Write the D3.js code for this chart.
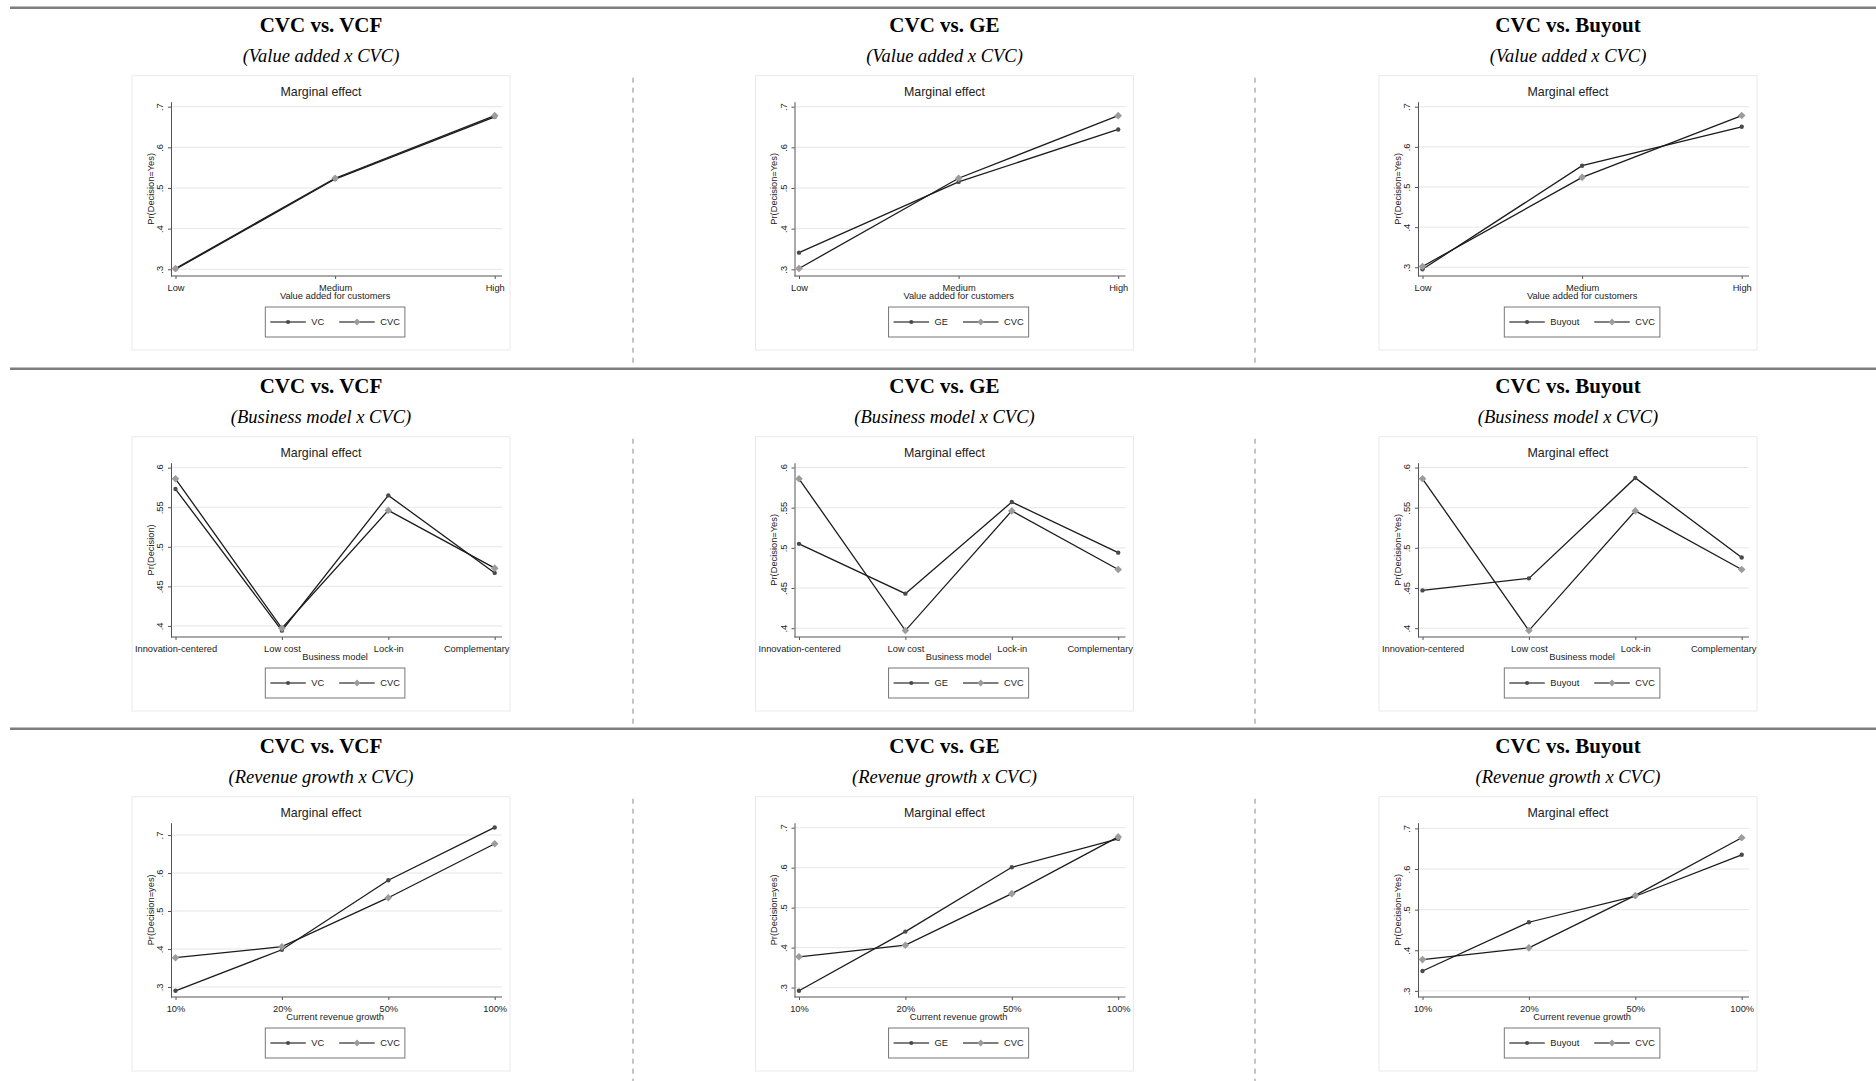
<!DOCTYPE html>
<html>
<head>
<meta charset="utf-8">
<script src="https://cdn.jsdelivr.net/npm/d3@7"></script>
<style>
  html, body { margin: 0; padding: 0; background: #fff; }
  svg { display: block; }
</style>
</head>
<body>
<svg id="chart" width="1876" height="1081"></svg>
<script>
// ---- Column / row labels ----
const comparisons = ["CVC vs. VCF", "CVC vs. GE", "CVC vs. Buyout"];
const comparatorNames = ["VC", "GE", "Buyout"];
const rowSubtitles = ["(Value added x CVC)", "(Business model x CVC)", "(Revenue growth x CVC)"];
const xTitles = ["Value added for customers", "Business model", "Current revenue growth"];
const yTitles = [
  ["Pr(Decision=Yes)", "Pr(Decision=Yes)", "Pr(Decision=Yes)"],
  ["Pr(Decision)", "Pr(Decision=Yes)", "Pr(Decision=Yes)"],
  ["Pr(Decision=yes)", "Pr(Decision=yes)", "Pr(Decision=Yes)"]
];

// ---- Categories ----
const valueLevels = ["Low", "Medium", "High"];
const businessModels = ["Innovation-centered", "Low cost", "Lock-in", "Complementary"];
const growthLevels = ["10%", "20%", "50%", "100%"];

// ---- Tick values ----
const tenthTicks = [0.3, 0.4, 0.5, 0.6, 0.7];
const twentiethTicks = [0.4, 0.45, 0.5, 0.55, 0.6];

// ---- Predicted probabilities: value added x CVC ----
const vcValue = [0.300, 0.522, 0.675];
const geValue = [0.341, 0.515, 0.644];
const buyoutValue = [0.295, 0.553, 0.650];
const cvcValue = [0.302, 0.524, 0.678];

// ---- Predicted probabilities: business model x CVC ----
const vcModel = [0.573, 0.394, 0.565, 0.467];
const geModel = [0.505, 0.443, 0.557, 0.494];
const buyoutModel = [0.447, 0.462, 0.587, 0.488];
const cvcModel = [0.586, 0.397, 0.546, 0.473];

// ---- Predicted probabilities: revenue growth x CVC ----
const vcGrowth = [0.290, 0.398, 0.581, 0.720];
const geGrowth = [0.292, 0.440, 0.601, 0.672];
const buyoutGrowth = [0.349, 0.469, 0.533, 0.635];
const cvcGrowth = [0.377, 0.406, 0.535, 0.677];

// ---- Assemble panels (row = moderator, column = comparison) ----
const rowCategories = [valueLevels, businessModels, growthLevels];
const rowTicks = [tenthTicks, twentiethTicks, tenthTicks];
const rowSeries = [
  [vcValue, geValue, buyoutValue],
  [vcModel, geModel, buyoutModel],
  [vcGrowth, geGrowth, buyoutGrowth]
];
const rowCvc = [cvcValue, cvcModel, cvcGrowth];
// plot-region value range for each panel's y scale
const yDomains = [
  [[0.2835, 0.7123], [0.2835, 0.7123], [0.2783, 0.7125]],
  [[0.386, 0.6063], [0.389, 0.606], [0.389, 0.606]],
  [[0.2736, 0.7325], [0.2764, 0.7125], [0.285, 0.714]]
];

// ---- Layout ----
const W = 1876, H = 1081;
const boxLeft = [132, 755.5, 1379];
const boxTop = [75.7, 436.7, 796.7];
const boxW = 378, boxH = 274.3;
const dividerX = [633, 1255];
const plot = { axisX: 39, left: 43.5, right: 362.7, gridEnd: 370, top: 26, bottom: 200.3 };

const SANS = "Arial, 'Liberation Sans', sans-serif";
const SERIF = "'Times New Roman', 'Liberation Serif', serif";

const svg = d3.select("#chart");
svg.append("rect").attr("width", W).attr("height", H).attr("fill", "#fff");

const fmt = d => String(d).replace(/^0/, "");

// horizontal rules and vertical dashed dividers
boxTop.forEach((by, r) => {
  svg.append("line")
    .attr("x1", 10).attr("x2", W)
    .attr("y1", by - 68).attr("y2", by - 68)
    .attr("stroke", "#7d7d7d").attr("stroke-width", 2.6);
  const yEnd = r < boxTop.length - 1 ? boxTop[r + 1] - 69.5 : H;
  dividerX.forEach(x => {
    svg.append("line")
      .attr("x1", x).attr("x2", x)
      .attr("y1", by + 2).attr("y2", yEnd)
      .attr("stroke", "#8a8a8a").attr("stroke-width", 1)
      .attr("stroke-dasharray", "5,5");
  });
});

function diamond(size) {
  return `M0,${-size}L${size},0L0,${size}L${-size},0Z`;
}

for (let r = 0; r < 3; r++) {
  for (let c = 0; c < 3; c++) {
    const bx = boxLeft[c], by = boxTop[r];
    const cx = bx + boxW / 2;

    // column heading and row subtitle
    svg.append("text")
      .attr("x", cx).attr("y", by - 44)
      .attr("text-anchor", "middle")
      .attr("font-family", SERIF).attr("font-weight", "bold")
      .attr("font-size", 21).attr("fill", "#000")
      .text(comparisons[c]);
    svg.append("text")
      .attr("x", cx).attr("y", by - 13.5)
      .attr("text-anchor", "middle")
      .attr("font-family", SERIF).attr("font-style", "italic")
      .attr("font-size", 18.5).attr("fill", "#000")
      .text(rowSubtitles[r]);

    const g = svg.append("g").attr("transform", `translate(${bx},${by})`);

    g.append("rect")
      .attr("width", boxW).attr("height", boxH)
      .attr("fill", "#fff").attr("stroke", "#e9e9e9").attr("stroke-width", 1);

    g.append("text")
      .attr("x", boxW / 2).attr("y", 20.5)
      .attr("text-anchor", "middle")
      .attr("font-family", SANS).attr("font-size", 12.4).attr("fill", "#222")
      .text("Marginal effect");

    const cats = rowCategories[r];
    const x = d3.scalePoint().domain(cats).range([plot.left, plot.right]);
    const y = d3.scaleLinear().domain(yDomains[r][c]).range([plot.bottom, plot.top]);
    const ticks = rowTicks[r];

    // grid lines
    g.append("g").selectAll("line").data(ticks).join("line")
      .attr("x1", plot.axisX).attr("x2", plot.gridEnd)
      .attr("y1", d => y(d)).attr("y2", d => y(d))
      .attr("stroke", "#e6e6e6").attr("stroke-width", 1);

    // y axis with rotated labels
    const yAxis = g.append("g")
      .attr("transform", `translate(${plot.axisX},0)`)
      .call(d3.axisLeft(y).tickValues(ticks).tickFormat(fmt).tickSize(3).tickSizeOuter(0));
    yAxis.select(".domain").attr("stroke", "#555");
    yAxis.selectAll(".tick line").attr("stroke", "#555");
    yAxis.selectAll(".tick text")
      .attr("transform", "rotate(-90)")
      .attr("x", 0).attr("y", -8).attr("dy", null)
      .attr("text-anchor", "middle")
      .attr("font-family", SANS).attr("font-size", 9.3).attr("fill", "#222");

    // x axis
    const xAxis = g.append("g")
      .attr("transform", `translate(0,${plot.bottom})`)
      .call(d3.axisBottom(x).tickSize(3).tickSizeOuter(0));
    xAxis.select(".domain").remove();
    xAxis.append("line")
      .attr("x1", plot.axisX).attr("x2", plot.gridEnd)
      .attr("stroke", "#555").attr("stroke-width", 1);
    xAxis.selectAll(".tick line").attr("stroke", "#555");
    xAxis.selectAll(".tick text")
      .attr("y", 14.7).attr("dy", null)
      .attr("font-family", SANS).attr("font-size", 9.3).attr("fill", "#222")
      .each(function (d) {
        // keep long labels inside the graph frame
        const half = this.getComputedTextLength() / 2;
        const overflow = x(d) + half - (boxW - 1);
        if (overflow > 0) d3.select(this).attr("x", -overflow);
      });

    // axis titles
    g.append("text")
      .attr("x", (plot.left + plot.right) / 2).attr("y", 223.6)
      .attr("text-anchor", "middle")
      .attr("font-family", SANS).attr("font-size", 9.3).attr("fill", "#222")
      .text(xTitles[r]);
    g.append("text")
      .attr("transform", `translate(21.5,${(plot.top + plot.bottom) / 2}) rotate(-90)`)
      .attr("text-anchor", "middle")
      .attr("font-family", SANS).attr("font-size", 9.3).attr("fill", "#222")
      .text(yTitles[r][c]);

    // series lines and markers
    const line = d3.line().x((d, i) => x(cats[i])).y(d => y(d));
    const comp = rowSeries[r][c];
    const cvc = rowCvc[r];

    g.append("path").datum(comp)
      .attr("d", line).attr("fill", "none")
      .attr("stroke", "#1b1b1b").attr("stroke-width", 1.3);
    g.append("g").selectAll("circle").data(comp).join("circle")
      .attr("cx", (d, i) => x(cats[i])).attr("cy", d => y(d))
      .attr("r", 2.2).attr("fill", "#4a4a4a");

    g.append("path").datum(cvc)
      .attr("d", line).attr("fill", "none")
      .attr("stroke", "#1b1b1b").attr("stroke-width", 1.3);
    g.append("g").selectAll("path").data(cvc).join("path")
      .attr("transform", (d, i) => `translate(${x(cats[i])},${y(d)})`)
      .attr("d", diamond(3.8)).attr("fill", "#9c9c9c");

    // legend
    const lg = g.append("g");
    const items = [
      { name: comparatorNames[c], kind: "circle" },
      { name: "CVC", kind: "diamond" }
    ];
    const pad = 5, lineLen = 35.5, gapLabel = 5.5, gapItem = 15;
    let cursor = pad;
    items.forEach((it, i) => {
      const mid = 15;
      lg.append("line")
        .attr("x1", cursor).attr("x2", cursor + lineLen)
        .attr("y1", mid).attr("y2", mid)
        .attr("stroke", "#555").attr("stroke-width", 1.3);
      if (it.kind === "circle") {
        lg.append("circle").attr("cx", cursor + lineLen / 2).attr("cy", mid)
          .attr("r", 2.1).attr("fill", "#4a4a4a");
      } else {
        lg.append("path").attr("transform", `translate(${cursor + lineLen / 2},${mid})`)
          .attr("d", diamond(3.4)).attr("fill", "#9c9c9c");
      }
      cursor += lineLen + gapLabel;
      const t = lg.append("text")
        .attr("x", cursor).attr("y", mid + 3.3)
        .attr("font-family", SANS).attr("font-size", 9.3).attr("fill", "#222")
        .text(it.name);
      cursor += t.node().getComputedTextLength();
      if (i < items.length - 1) cursor += gapItem;
    });
    cursor += pad;
    lg.insert("rect", ":first-child")
      .attr("width", cursor).attr("height", 30)
      .attr("fill", "#fff").attr("stroke", "#777").attr("stroke-width", 1);
    lg.attr("transform", `translate(${(plot.left + plot.right) / 2 - cursor / 2},231.3)`);
  }
}
</script>
</body>
</html>
